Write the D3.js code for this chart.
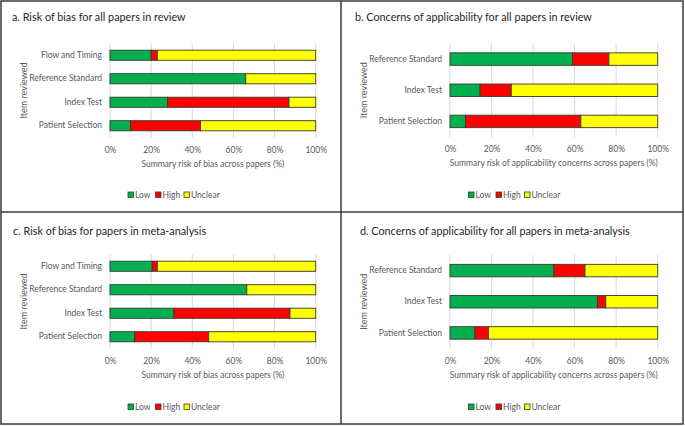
<!DOCTYPE html>
<html><head><meta charset="utf-8">
<script src="https://cdn.jsdelivr.net/npm/d3@7"></script>
<style>
body{margin:0;background:#fff;}
text{font-family:Lato,"Open Sans",sans-serif;}
</style></head>
<body>
<svg id="chart" width="685" height="426"></svg>
<script>
// ---- data ----
const seriesNames = ["Low", "High", "Unclear"];
const seriesColors = ["#00b050", "#ff0000", "#ffff00"];
const xTicks = [0, 20, 40, 60, 80, 100];

const biasItems = ["Flow and Timing", "Reference Standard", "Index Test", "Patient Selection"];
const applicItems = ["Reference Standard", "Index Test", "Patient Selection"];

// Panel a: risk of bias, all papers in review
const aLow     = [20, 66, 28, 10];
const aHigh    = [3, 0, 59, 34];
const aUnclear = [77, 34, 13, 56];
// Panel b: applicability, all papers in review
const bLow     = [59, 14.5, 7.5];
const bHigh    = [17.5, 15, 55.5];
const bUnclear = [23.5, 70.5, 37];
// Panel c: risk of bias, meta-analysis
const cLow     = [20.5, 66.5, 31, 12];
const cHigh    = [2.5, 0, 56.5, 36];
const cUnclear = [77, 33.5, 12.5, 52];
// Panel d: applicability, meta-analysis
const dLow     = [50, 71, 12];
const dHigh    = [15, 4, 6.5];
const dUnclear = [35, 25, 81.5];

const titles = [
  "a. Risk of bias for all papers in review",
  "b. Concerns of applicability for all papers in review",
  "c. Risk of bias for papers in meta-analysis",
  "d. Concerns of applicability for all papers in meta-analysis"
];
const xTitleBias = "Summary risk of bias across papers (%)";
const xTitleApplic = "Summary risk of applicability concerns across papers (%)";
const yTitle = "Item reviewed";

const svg = d3.select("#chart");

// panel frames
svg.append("rect").attr("x", 1).attr("y", 1).attr("width", 682).attr("height", 423)
  .attr("fill", "none").attr("stroke", "#3a3a3a").attr("stroke-width", 1.5);
svg.append("line").attr("x1", 341).attr("x2", 341).attr("y1", 1).attr("y2", 424)
  .attr("stroke", "#3a3a3a").attr("stroke-width", 1.5);
svg.append("line").attr("x1", 1).attr("x2", 683).attr("y1", 212).attr("y2", 212)
  .attr("stroke", "#3a3a3a").attr("stroke-width", 1.5);

const panels = [
  {title: titles[0], tx: 12, ty: 21, items: biasItems, low: aLow, high: aHigh, unc: aUnclear,
   x0: 110, x1: 315.7, y0: 43.5, y1: 137.5, pad: 0.57, xTitle: xTitleBias, yx: 24, legX: 128, oy: 0},
  {title: titles[1], tx: 355, ty: 21, items: applicItems, low: bLow, high: bHigh, unc: bUnclear,
   x0: 450, x1: 657.7, y0: 43.5, y1: 137, pad: 0.6, xTitle: xTitleApplic, yx: 363.5, legX: 468.5, oy: 0},
  {title: titles[2], tx: 13, ty: 235, items: biasItems, low: cLow, high: cHigh, unc: cUnclear,
   x0: 110, x1: 315.7, y0: 254.5, y1: 348.5, pad: 0.57, xTitle: xTitleBias, yx: 24, legX: 128, oy: 212},
  {title: titles[3], tx: 360, ty: 235, items: applicItems, low: dLow, high: dHigh, unc: dUnclear,
   x0: 450, x1: 657.7, y0: 255, y1: 348.5, pad: 0.6, xTitle: xTitleApplic, yx: 363.5, legX: 468.5, oy: 212}
];

panels.forEach(p => {
  const g = svg.append("g");
  g.append("text").attr("x", p.tx).attr("y", p.ty).text(p.title)
    .attr("font-size", 10.8).attr("fill", "#262626");

  const x = d3.scaleLinear().domain([0, 100]).range([p.x0, p.x1]);
  const y = d3.scaleBand().domain(p.items).range([p.y0, p.y1])
    .paddingInner(p.pad).paddingOuter(p.pad / 2);

  // gridlines
  g.append("g").selectAll("line").data(xTicks).join("line")
    .attr("x1", d => x(d)).attr("x2", d => x(d))
    .attr("y1", p.y0).attr("y2", p.y1)
    .attr("stroke", "#d9d9d9").attr("stroke-width", 1);

  // x axis tick labels
  const xAxis = d3.axisBottom(x).tickValues(xTicks).tickFormat(d => d + "%").tickSize(0).tickPadding(7);
  const xg = g.append("g").attr("transform", `translate(0,${p.y1 + 2})`).call(xAxis);
  xg.select(".domain").remove();
  xg.selectAll("text").attr("font-size", 8.5).attr("fill", "#595959")
    .attr("font-family", "Lato,sans-serif");

  // y axis labels
  const yAxis = d3.axisLeft(y).tickSize(0).tickPadding(8);
  const yg = g.append("g").attr("transform", `translate(${p.x0},0)`).call(yAxis);
  yg.select(".domain").remove();
  yg.selectAll("text").attr("font-size", 8.5).attr("fill", "#595959")
    .attr("font-family", "Lato,sans-serif");

  // stacked bars
  const rows = p.items.map((it, i) => ({item: it, Low: p.low[i], High: p.high[i], Unclear: p.unc[i]}));
  const stack = d3.stack().keys(seriesNames)(rows);
  g.append("g").selectAll("g").data(stack).join("g")
    .attr("fill", (d, i) => seriesColors[i])
    .selectAll("rect").data(d => d.filter(s => s[1] - s[0] > 0)).join("rect")
    .attr("x", d => x(d[0])).attr("width", d => x(d[1]) - x(d[0]))
    .attr("y", d => y(d.data.item)).attr("height", y.bandwidth())
    .attr("stroke", "#3a3a2a").attr("stroke-width", 0.9);

  // axis titles
  g.append("text").attr("x", (p.x0 + p.x1) / 2).attr("y", p.y1 + 29)
    .attr("text-anchor", "middle").attr("font-size", 8.5).attr("fill", "#595959").text(p.xTitle);
  g.append("text").attr("transform", `translate(${p.yx},${(p.y0 + p.y1) / 2}) rotate(-90)`)
    .attr("text-anchor", "middle").attr("dy", "0.35em")
    .attr("font-size", 9).attr("fill", "#595959").text(yTitle);

  // legend
  const legY = 195 + p.oy;
  const legOffsets = [0, 27.5, 56];
  const lg = g.append("g").selectAll("g").data(seriesNames).join("g")
    .attr("transform", (d, i) => `translate(${p.legX + legOffsets[i]},${legY})`);
  lg.append("rect").attr("x", 0).attr("y", -3).attr("width", 5.5).attr("height", 5.5)
    .attr("fill", (d, i) => seriesColors[i]).attr("stroke", "#3a3a2a").attr("stroke-width", 0.8);
  lg.append("text").attr("x", 7).attr("y", 0).attr("dy", "0.35em")
    .attr("font-size", 8.5).attr("fill", "#595959").text(d => d);
});
</script>
</body></html>
